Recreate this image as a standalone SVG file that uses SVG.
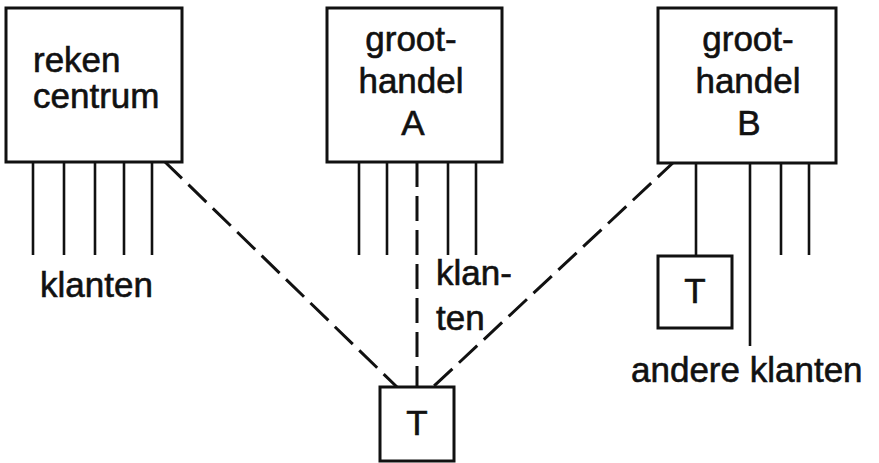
<svg xmlns="http://www.w3.org/2000/svg" width="879" height="463" viewBox="0 0 879 463">
  <style>
    .box { fill: #fff; stroke: #111; stroke-width: 3; }
    .wire { stroke: #111; stroke-width: 2.6; fill: none; }
    .dash { stroke: #111; stroke-width: 3; fill: none; stroke-dasharray: 25 9; }
    text { font-family: "Liberation Sans", Arial, Helvetica, sans-serif; font-size: 35px; fill: #111; stroke: #111; stroke-width: 0.6; }
    .c { text-anchor: middle; }
  </style>
  <rect width="879" height="463" fill="#fff"/>

  <!-- connectors -->
  <g id="connectors">
    <!-- client lines of the computing centre -->
    <line class="wire" x1="33" y1="162" x2="33" y2="255"/>
    <line class="wire" x1="64" y1="162" x2="64" y2="255"/>
    <line class="wire" x1="95" y1="162" x2="95" y2="255"/>
    <line class="wire" x1="124" y1="162" x2="124" y2="255"/>
    <line class="wire" x1="152" y1="162" x2="152" y2="255"/>
    <!-- client lines of wholesaler A -->
    <line class="wire" x1="359" y1="162" x2="359" y2="255"/>
    <line class="wire" x1="387" y1="162" x2="387" y2="255"/>
    <line class="wire" x1="448" y1="162" x2="448" y2="255"/>
    <line class="wire" x1="476" y1="162" x2="476" y2="255"/>
    <!-- client lines of wholesaler B -->
    <line class="wire" x1="696" y1="163" x2="696" y2="256"/>
    <line class="wire" x1="750" y1="163" x2="750" y2="346"/>
    <line class="wire" x1="781" y1="163" x2="781" y2="255"/>
    <line class="wire" x1="809" y1="163" x2="809" y2="255"/>
    <!-- dashed links to the shared terminal -->
    <line class="dash" x1="164" y1="161" x2="397" y2="387"/>
    <line class="dash" x1="417" y1="162" x2="417" y2="387"/>
    <line class="dash" x1="676" y1="160" x2="433" y2="387"/>
  </g>

  <g id="rekencentrum">
    <rect class="box" x="6" y="8" width="176" height="154"/>
    <text x="33" y="72">reken</text>
    <text x="33" y="108">centrum</text>
  </g>
  <text id="label-klanten" x="40" y="297">klanten</text>

  <g id="groothandel-a">
    <rect class="box" x="327" y="8" width="175" height="154"/>
    <text class="c" x="411" y="51">groot-</text>
    <text class="c" x="411" y="93">handel</text>
    <text class="c" x="413" y="135">A</text>
  </g>
  <g id="label-klan-ten">
    <text x="436" y="285">klan-</text>
    <text x="436" y="330">ten</text>
  </g>

  <g id="groothandel-b">
    <rect class="box" x="658" y="8" width="178" height="155"/>
    <text class="c" x="748" y="51">groot-</text>
    <text class="c" x="748" y="93">handel</text>
    <text class="c" x="749" y="135">B</text>
  </g>

  <g id="terminal-b">
    <rect class="box" x="658" y="256" width="74" height="72"/>
    <text class="c" x="695" y="303">T</text>
  </g>
  <text id="label-andere-klanten" x="631" y="382">andere klanten</text>

  <g id="terminal-shared">
    <rect class="box" x="380" y="387" width="74" height="74"/>
    <text class="c" x="417" y="435">T</text>
  </g>
</svg>
